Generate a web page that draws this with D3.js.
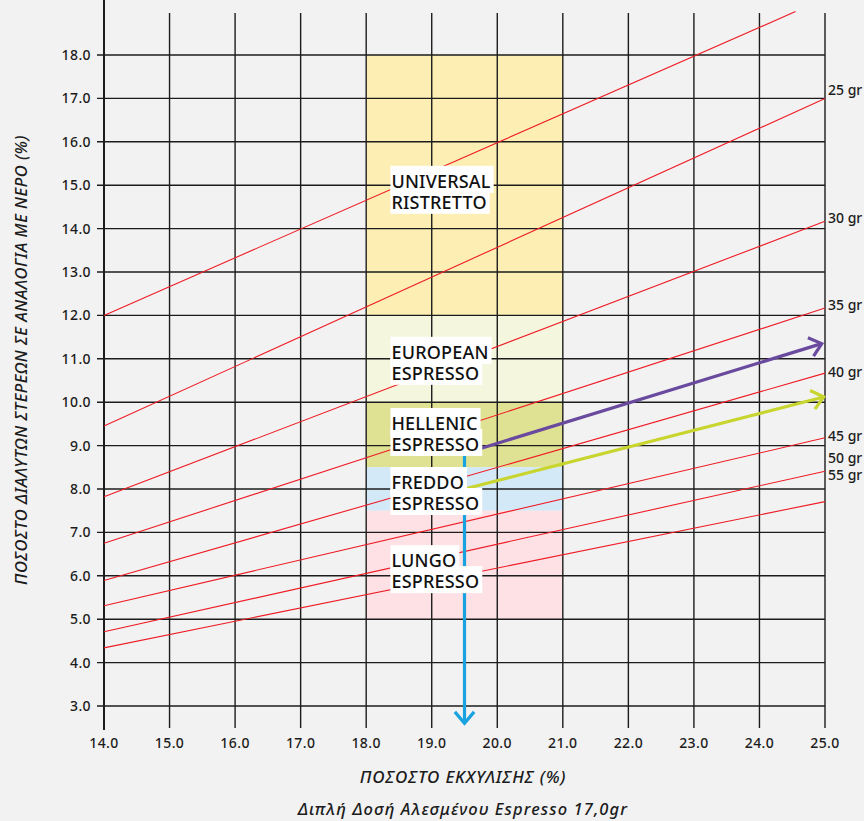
<!DOCTYPE html>
<html>
<head>
<meta charset="utf-8">
<script src="https://cdn.jsdelivr.net/npm/d3@7"></script>
<style>
  html, body { margin: 0; padding: 0; background: #f2f2f2; }
  svg { display: block; }
</style>
</head>
<body>
<div id="chart"></div>
<script>
/* Brew-ratio chart: extraction yield (x) vs TDS (y), with the
   beverage-weight lines in red and the espresso style zones. */

var xTicks = [14, 15, 16, 17, 18, 19, 20, 21, 22, 23, 24, 25];
var yTicks = [3, 4, 5, 6, 7, 8, 9, 10, 11, 12, 13, 14, 15, 16, 17, 18];

/* red ratio lines: TDS at EY 14.0 and end point on the right */
var ratioStartY = [12.0, 9.45, 7.82, 6.75, 5.89, 5.31, 4.71, 4.34];
var ratioEndX   = [24.55, 25, 25, 25, 25, 25, 25, 25];
var ratioEndY   = [19.0, 17.0, 14.17, 12.17, 10.67, 9.18, 8.41, 7.71];

var grLabels = ["25 gr", "30 gr", "35 gr", "40 gr", "45 gr", "50 gr", "55 gr"];
var grLabelY = [17.19, 14.24, 12.24, 10.70, 9.22, 8.71, 8.32];

/* style zones, EY 18–21 */
var zoneNames = ["UNIVERSAL RISTRETTO", "EUROPEAN ESPRESSO", "HELLENIC ESPRESSO", "FREDDO ESPRESSO", "LUNGO ESPRESSO"];
var zoneLow   = [12, 10, 8.5, 7.5, 5];
var zoneHigh  = [18, 12, 10, 8.5, 7.5];
var zoneColors = ["#fdefb3", "#f5f6de", "#e0e293", "#d3e9f7", "#fde1e4"];
var zoneX0 = 18, zoneX1 = 21;

var labelLines = [["UNIVERSAL", "RISTRETTO"], ["EUROPEAN", "ESPRESSO"], ["HELLENIC", "ESPRESSO"], ["FREDDO", "ESPRESSO"], ["LUNGO", "ESPRESSO"]];
var labelY = [14.94, 11.0, 9.36, 8.0, 6.2];
var labelX = 18.37;

/* arrows: from → to, colour */
var arrowFromX = [19.5, 19.5, 19.5];
var arrowFromY = [8.8, 8.82, 8.0];
var arrowToX   = [19.5, 24.95, 24.98];
var arrowToY   = [2.6, 11.35, 10.12];
var arrowColors = ["#19a2e0", "#6a4a9e", "#c9d52f"];

var W = 864, H = 821;
var font = "'Noto Sans', 'DejaVu Sans', sans-serif";
var ink = "#1c1c1c";

var x = d3.scaleLinear().domain([14, 25]).range([104, 825]);
var y = d3.scaleLinear().domain([3, 18]).range([706, 55]);

var svg = d3.select("#chart").append("svg")
  .attr("width", W).attr("height", H)
  .attr("viewBox", "0 0 " + W + " " + H);

svg.append("rect").attr("width", W).attr("height", H).attr("fill", "#f2f2f2");

/* zones */
zoneNames.forEach(function (n, i) {
  svg.append("rect")
    .attr("x", x(zoneX0))
    .attr("y", y(zoneHigh[i]))
    .attr("width", x(zoneX1) - x(zoneX0))
    .attr("height", y(zoneLow[i]) - y(zoneHigh[i]))
    .attr("fill", zoneColors[i]);
});

/* grid */
var grid = svg.append("g").attr("stroke", ink).attr("stroke-width", 1.4);
yTicks.forEach(function (v) {
  grid.append("line")
    .attr("x1", x(14) - 7).attr("x2", x(25))
    .attr("y1", y(v)).attr("y2", y(v));
});
xTicks.forEach(function (v) {
  grid.append("line")
    .attr("x1", x(v)).attr("x2", x(v))
    .attr("y1", v === 14 ? 0 : y(18.97))
    .attr("y2", y(3) + (v === 14 ? 24 : 22))
    .attr("stroke-width", v === 14 ? 2 : 1.4);
});

/* tick labels */
yTicks.forEach(function (v) {
  svg.append("text")
    .attr("x", x(14) - 13)
    .attr("y", y(v))
    .attr("dy", "0.36em")
    .attr("text-anchor", "end")
    .attr("font-family", font)
    .attr("font-size", 14)
    .attr("font-weight", 500)
    .attr("letter-spacing", 0.4)
    .attr("fill", ink)
    .text(v.toFixed(1));
});
xTicks.forEach(function (v) {
  svg.append("text")
    .attr("x", x(v))
    .attr("y", 743)
    .attr("dy", "0.36em")
    .attr("text-anchor", "middle")
    .attr("font-family", font)
    .attr("font-size", 14)
    .attr("font-weight", 500)
    .attr("letter-spacing", 0.4)
    .attr("fill", ink)
    .text(v.toFixed(1));
});

/* ratio lines */
ratioStartY.forEach(function (v, i) {
  svg.append("line")
    .attr("x1", x(14)).attr("y1", y(v))
    .attr("x2", x(ratioEndX[i])).attr("y2", y(ratioEndY[i]))
    .attr("stroke", "#ee1c25")
    .attr("stroke-width", 1.1);
});
grLabels.forEach(function (t, i) {
  svg.append("text")
    .attr("x", x(25) + 3)
    .attr("y", y(grLabelY[i]))
    .attr("dy", "0.36em")
    .attr("font-family", font)
    .attr("font-size", 14)
    .attr("font-weight", 500)
    .attr("fill", ink)
    .text(t);
});

/* arrows — drawn under the labels, which hide their start */
function arrow(i) {
  var x0 = x(arrowFromX[i]), y0 = y(arrowFromY[i]);
  var x1 = x(arrowToX[i]), y1 = y(arrowToY[i]);
  var a = Math.atan2(y1 - y0, x1 - x0);
  var len = 15, spread = 40 * Math.PI / 180;
  var g = svg.append("g")
    .attr("stroke", arrowColors[i])
    .attr("stroke-width", 3.2)
    .attr("fill", "none")
    .attr("stroke-linecap", "butt");
  g.append("line").attr("x1", x0).attr("y1", y0).attr("x2", x1).attr("y2", y1);
  g.append("path")
    .attr("stroke-linejoin", "miter")
    .attr("d", "M" + (x1 - len * Math.cos(a - spread)) + "," + (y1 - len * Math.sin(a - spread)) +
      "L" + x1 + "," + y1 +
      "L" + (x1 - len * Math.cos(a + spread)) + "," + (y1 - len * Math.sin(a + spread)));
}
arrowColors.forEach(function (c, i) { arrow(i); });

/* zone labels: one text per zone, each line on its own white strip */
labelLines.forEach(function (lines, i) {
  var g = svg.append("g");
  var bg = g.append("g");
  var txt = g.append("text")
    .attr("font-family", font)
    .attr("font-size", 18)
    .attr("font-weight", 500)
    .attr("letter-spacing", 0.2)
    .attr("fill", "#111");
  lines.forEach(function (t, j) {
    var by = y(labelY[i]) + j * 21;
    var ts = txt.append("tspan")
      .attr("x", x(labelX) + 1)
      .attr("y", by)
      .text(t);
    var w = ts.node().getComputedTextLength();
    bg.append("rect")
      .attr("x", x(labelX))
      .attr("y", by - 22)
      .attr("width", w + 4)
      .attr("height", 27)
      .attr("fill", "#fff");
  });
});

/* axis titles */
svg.append("text")
  .attr("transform", "translate(21," + 360 + ") rotate(-90)")
  .attr("dy", "0.36em")
  .attr("text-anchor", "middle")
  .attr("font-family", font)
  .attr("font-size", 16.5)
  .attr("font-style", "italic")
  .attr("font-weight", 500)
  .attr("letter-spacing", 0.5)
  .attr("fill", ink)
  .text("ΠΟΣΟΣΤΟ ΔΙΑΛΥΤΩΝ ΣΤΕΡΕΩΝ ΣΕ ΑΝΑΛΟΓΙΑ ΜΕ ΝΕΡΟ (%)");

svg.append("text")
  .attr("x", 463).attr("y", 777)
  .attr("dy", "0.36em")
  .attr("text-anchor", "middle")
  .attr("font-family", font)
  .attr("font-size", 17)
  .attr("font-style", "italic")
  .attr("font-weight", 500)
  .attr("letter-spacing", 0.8)
  .attr("fill", ink)
  .text("ΠΟΣΟΣΤΟ ΕΚΧΥΛΙΣΗΣ (%)");

svg.append("text")
  .attr("x", 463).attr("y", 809)
  .attr("dy", "0.36em")
  .attr("text-anchor", "middle")
  .attr("font-family", font)
  .attr("font-size", 16.5)
  .attr("font-style", "italic")
  .attr("font-weight", 500)
  .attr("letter-spacing", 1.1)
  .attr("fill", ink)
  .text("Διπλή Δοσή Αλεσμένου Espresso 17,0gr");
</script>
</body>
</html>
